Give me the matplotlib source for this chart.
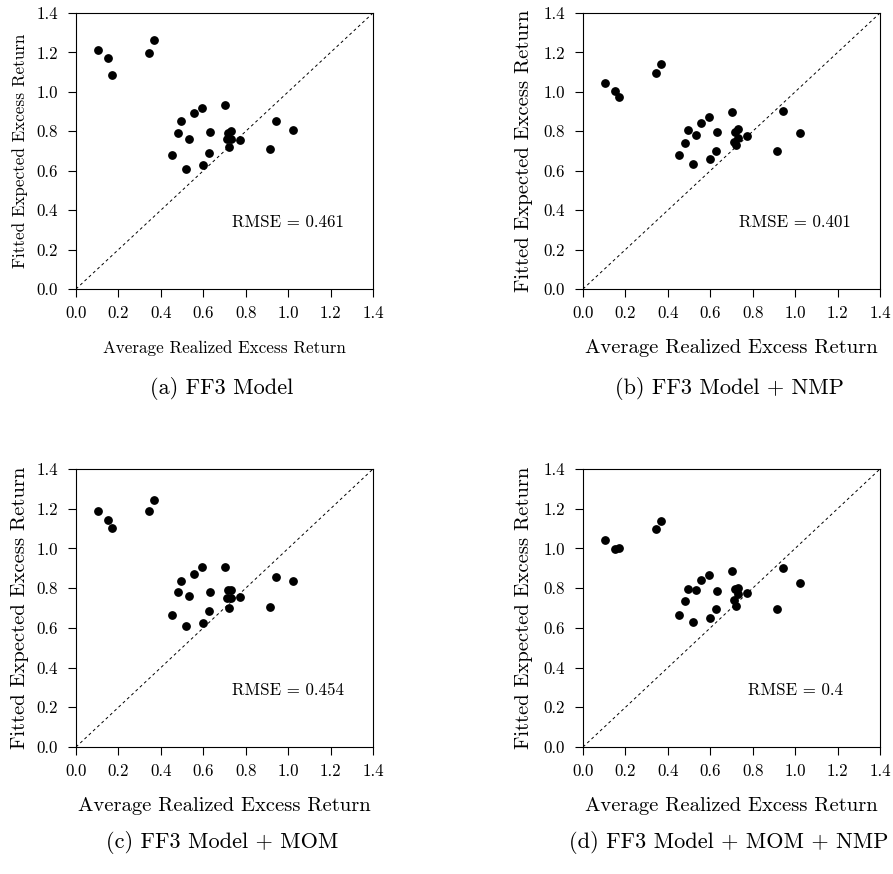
import numpy as np
import matplotlib
matplotlib.use("Agg")
import matplotlib.pyplot as plt

plt.rcParams['font.family'] = ['cmr10', 'DejaVu Serif']
plt.rcParams['mathtext.fontset'] = 'cm'
plt.rcParams['axes.unicode_minus'] = False
plt.rcParams['axes.formatter.use_mathtext'] = True

# average realized excess return (same 25 portfolios in every panel)
realized = [0.105, 0.151, 0.168, 0.344, 0.369, 0.452, 0.482, 0.496, 0.520, 0.534,
            0.557, 0.596, 0.597, 0.628, 0.632, 0.701, 0.720, 0.713, 0.730, 0.718,
            0.730, 0.775, 0.915, 0.943, 1.025]

# fitted expected excess return per model
fitted_ff3 = [1.214, 1.172, 1.084, 1.195, 1.263, 0.680, 0.793, 0.852, 0.609, 0.759,
              0.894, 0.916, 0.627, 0.688, 0.796, 0.932, 0.720, 0.763, 0.763, 0.793,
              0.801, 0.758, 0.710, 0.854, 0.808]
fitted_ff3_nmp = [1.045, 1.004, 0.974, 1.097, 1.143, 0.680, 0.742, 0.808, 0.632, 0.783,
                  0.842, 0.874, 0.658, 0.700, 0.795, 0.900, 0.729, 0.746, 0.764, 0.798,
                  0.813, 0.778, 0.700, 0.903, 0.793]
fitted_ff3_mom = [1.190, 1.143, 1.105, 1.186, 1.242, 0.663, 0.779, 0.835, 0.609, 0.759,
                  0.873, 0.904, 0.623, 0.687, 0.782, 0.904, 0.700, 0.752, 0.752, 0.793,
                  0.793, 0.754, 0.705, 0.855, 0.836]
fitted_ff3_mom_nmp = [1.040, 0.996, 1.001, 1.099, 1.136, 0.666, 0.737, 0.798, 0.631, 0.791,
                      0.841, 0.865, 0.651, 0.697, 0.786, 0.888, 0.712, 0.742, 0.771, 0.796,
                      0.801, 0.774, 0.697, 0.899, 0.828]

rmse_labels = ['0.461', '0.401', '0.454', '0.4']
captions = ['(a) FF3 Model', '(b) FF3 Model + NMP',
            '(c) FF3 Model + MOM', '(d) FF3 Model + MOM + NMP']
ticks = [0.0, 0.2, 0.4, 0.6, 0.8, 1.0, 1.2, 1.4]

W, H = 893, 874
fig = plt.figure(figsize=(W / 100, H / 100), dpi=100)

# pixel boxes (left, top, right, bottom) of each axes
boxes = [(76, 13, 373, 289), (583, 13, 880, 289),
         (76, 469, 373, 747), (583, 469, 880, 747)]
series = [fitted_ff3, fitted_ff3_nmp, fitted_ff3_mom, fitted_ff3_mom_nmp]
rmse_y = [0.34, 0.34, 0.286, 0.286]
label_size = [12.3, 14.8, 14.8, 14.8]
ylabel_x = [20, 524, 20, 524]
caption_pos = [(222, 388), (729, 388), (222, 843), (729, 843)]

for i, (l, t, r, b) in enumerate(boxes):
    ax = fig.add_axes([l / W, 1 - b / H, (r - l) / W, (b - t) / H])
    ax.plot([0, 1.4], [0, 1.4], ls=(0, (3, 3)), color='black', lw=0.7)
    ax.scatter(realized, series[i], s=28, color='black', zorder=3)
    ax.set_xlim(0, 1.4)
    ax.set_ylim(0, 1.4)
    ax.set_xticks(ticks)
    ax.set_yticks(ticks)
    ax.set_xticklabels([f'{v:.1f}' for v in ticks])
    ax.set_yticklabels([f'{v:.1f}' for v in ticks])
    ax.tick_params(direction='out', length=6, width=0.8, labelsize=12.2)
    ax.tick_params(axis='x', pad=6)
    ax.tick_params(axis='y', pad=7)
    ax.set_xlabel('Average Realized Excess Return', fontsize=label_size[i],
                  va='center')
    ax.set_ylabel('Fitted Expected Excess Return', fontsize=label_size[i],
                  va='center', ha='center')
    ax.xaxis.set_label_coords(0.5, -0.213)
    ax.yaxis.set_label_coords((ylabel_x[i] - l) / (r - l), 0.5)
    ax.text(1.0, rmse_y[i], 'RMSE = ' + rmse_labels[i], fontsize=12.2,
            ha='center', va='center')
    cx, cy = caption_pos[i]
    fig.text(cx / W, 1 - cy / H, captions[i], fontsize=16, ha='center', va='center')

fig.savefig('out.png', dpi=100)
